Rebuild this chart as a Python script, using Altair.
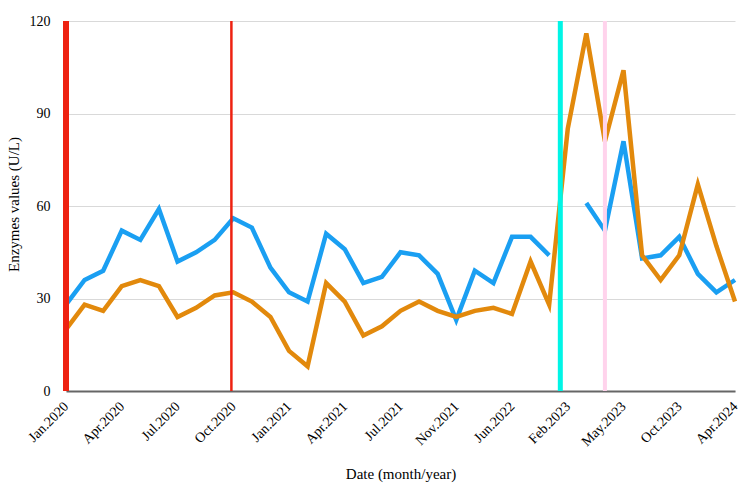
import json

import altair as alt
import pandas as pd

# Sampling points (evenly spaced), labelled every third point
sample_index = list(range(37))
tick_positions = list(range(0, 37, 3))
tick_labels = [
    "Jan.2020", "Apr.2020", "Jul.2020", "Oct.2020", "Jan.2021", "Apr.2021",
    "Jul.2021", "Nov.2021", "Jun.2022", "Feb.2023", "May.2023", "Oct.2023",
    "Apr.2024",
]

# Enzyme values (U/L); None marks a missing measurement
enzyme_blue = [28, 36, 39, 52, 49, 59, 42, 45, 49, 56,
               53, 40, 32, 29, 51, 46, 35, 37, 45, 44,
               38, 23, 39, 35, 50, 50, 44, None, 61, 52,
               81, 43, 44, 50, 38, 32, 36]
enzyme_orange = [20, 28, 26, 34, 36, 34, 24, 27, 31, 32,
                 29, 24, 13, 8, 35, 29, 18, 21, 26, 29,
                 26, 24, 26, 27, 25, 42, 28, 85, 116, 81,
                 104, 44, 36, 44, 67, 47, 29]

# Event markers (position on the sampling axis)
event_pos = [0, 8.9, 26.6, 29.0]
event_color = ["#ee2211", "#ee2211", "#00f5e6", "#ffd3ec"]
event_width = [6, 2.5, 5, 4]

series_color = {"blue": "#1a9ff2", "orange": "#e2890c"}


def to_rows(name, values):
    rows, seg = [], 0
    for i, v in zip(sample_index, values):
        if v is None:
            seg += 1
            continue
        rows.append({"idx": i, "value": v, "series": name, "seg": f"{name}-{seg}"})
    return rows


lines_df = pd.DataFrame(to_rows("blue", enzyme_blue) + to_rows("orange", enzyme_orange))
events_df = pd.DataFrame({"pos": event_pos, "color": event_color, "width": event_width})

FONT = "Liberation Serif"
label_expr = json.dumps(tick_labels) + "[round(datum.value / 3)]"

x_enc = alt.X(
    "idx:Q",
    scale=alt.Scale(domain=[0, 36], nice=False, zero=False),
    axis=alt.Axis(
        values=tick_positions,
        labelExpr=label_expr,
        labelAngle=-45,
        labelAlign="right",
        labelBaseline="middle",
        labelPadding=13,
        labelOverlap=False,
        labelFlush=False,
        labelFont=FONT,
        labelFontSize=14,
        labelColor="#000000",
        ticks=False,
        grid=False,
        domainColor="#666666",
        domainWidth=2,
        title="Date (month/year)",
        titleFont=FONT,
        titleFontSize=15,
        titleFontWeight="normal",
        titleColor="#000000",
        titleY=87,
        titleBaseline="alphabetic",
    ),
)

y_enc = alt.Y(
    "value:Q",
    scale=alt.Scale(domain=[0, 120], nice=False),
    axis=alt.Axis(
        values=[0, 30, 60, 90, 120],
        domain=False,
        ticks=False,
        labelPadding=16,
        labelFont=FONT,
        labelFontSize=14,
        labelColor="#000000",
        gridColor="#d9d9d9",
        gridWidth=1,
        title="Enzymes values (U/L)",
        titleFont=FONT,
        titleFontSize=15,
        titleFontWeight="normal",
        titleColor="#000000",
        titleX=-53,
        titleY=183,
        titleBaseline="middle",
    ),
)

lines = alt.Chart(lines_df).mark_line(strokeWidth=4.5, strokeJoin="miter").encode(
    x=x_enc,
    y=y_enc,
    color=alt.Color(
        "series:N",
        scale=alt.Scale(domain=list(series_color), range=list(series_color.values())),
        legend=None,
    ),
    detail="seg:N",
    order="idx:Q",
)

events = alt.Chart(events_df).mark_rule().encode(
    x="pos:Q",
    color=alt.Color("color:N", scale=None),
    strokeWidth=alt.StrokeWidth("width:Q", scale=None),
)

chart = (
    alt.layer(lines, events)
    .properties(
        width=669,
        height=370,
        autosize=alt.AutoSizeParams(type="none"),
        padding={"left": 66, "top": 21, "right": 15, "bottom": 96},
        background="#ffffff",
    )
    .configure_view(stroke=None)
)

chart.save("out.html", embed_options={"renderer": "svg", "actions": False})
